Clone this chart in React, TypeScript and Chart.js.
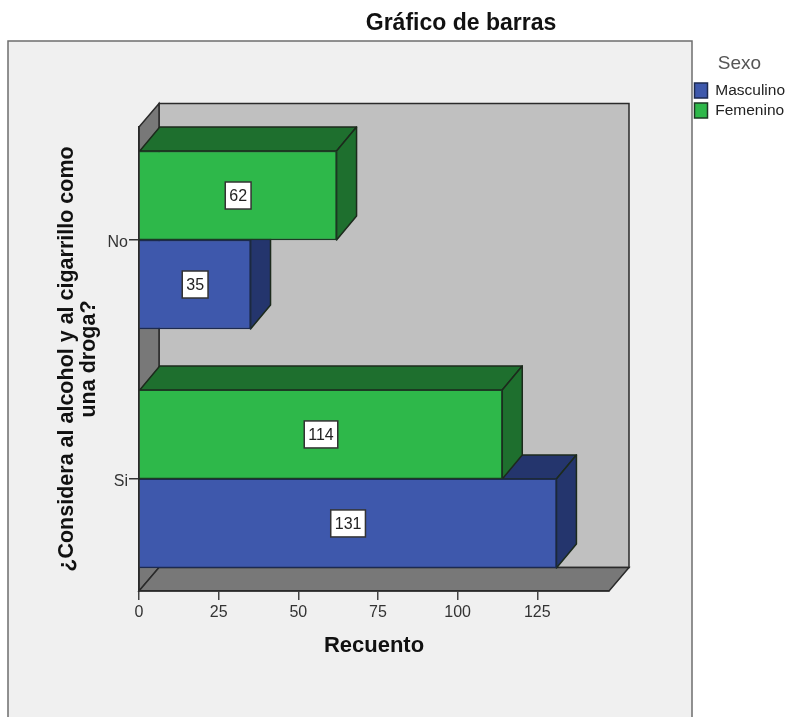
import React, { useEffect, useRef } from "react";
import { Chart, registerables } from "chart.js";

Chart.register(...registerables);

const categories = ["Si", "No"];
const categoryPositions = [1, 2];
const masculino = [131, 35];
const femenino = [114, 62];
const xTitle = "Recuento";
const yTitle = ["¿Considera al alcohol y al cigarrillo como", "una droga?"];
const chartTitle = "Gráfico de barras";
const legendTitle = "Sexo";

const FONT = "'Liberation Sans', Arial, sans-serif";
const DEPTH_X = 20;
const DEPTH_Y = 24;
const WALL_DEPTH_Y = 23.5;
const LINE = "#2a2a2a";

const poly = (ctx: CanvasRenderingContext2D, pts: number[][], fill: string, stroke = LINE, lw = 1.5) => {
  ctx.beginPath();
  pts.forEach((p, i) => (i ? ctx.lineTo(p[0], p[1]) : ctx.moveTo(p[0], p[1])));
  ctx.closePath();
  ctx.fillStyle = fill;
  ctx.fill();
  ctx.strokeStyle = stroke;
  ctx.lineWidth = lw;
  ctx.stroke();
};

const scene = {
  id: "scene",
  beforeLayout(chart: any) {
    const legend = chart.legend;
    if (!legend.__patched) {
      legend.__patched = true;
      const fit = legend.fit;
      legend.fit = function () {
        fit.call(this);
        this.width = 93;
      };
      const drawTitle = legend._drawTitle ?? legend.drawTitle;
      const nudged = function (this: any) {
        this.ctx.save();
        this.ctx.translate(3, -1);
        drawTitle.call(this);
        this.ctx.restore();
      };
      legend.drawTitle = nudged;
      legend._drawTitle = nudged;
    }
  },
  afterLayout(chart: any) {
    const t = chart.titleBlock;
    t.left = 136; t.right = 786; t.top = 12; t.bottom = 38;
    const l = chart.legend;
    l.left = 690; l.right = 786; l.top = 50; l.bottom = 130;
  },
  beforeDraw(chart: any) {
    const { ctx, chartArea: a, width, height } = chart;
    ctx.save();
    ctx.fillStyle = "#ffffff";
    ctx.fillRect(0, 0, width, height);
    ctx.fillStyle = "#f0f0f0";
    ctx.fillRect(8, 41, 684, height - 41);
    ctx.strokeStyle = "#6e6e6e";
    ctx.lineWidth = 1.5;
    ctx.beginPath();
    ctx.moveTo(8, height);
    ctx.lineTo(8, 41);
    ctx.lineTo(692, 41);
    ctx.lineTo(692, height);
    ctx.stroke();
    const d = DEPTH_X, h = WALL_DEPTH_Y;
    poly(ctx, [[a.left + d, a.top - h], [a.right + d, a.top - h], [a.right + d, a.bottom - h], [a.left + d, a.bottom - h]], "#c0c0c0");
    poly(ctx, [[a.left, a.top], [a.left + d, a.top - h], [a.left + d, a.bottom - h], [a.left, a.bottom]], "#787878");
    poly(ctx, [[a.left, a.bottom], [a.left + d, a.bottom - h], [a.right + d, a.bottom - h], [a.right, a.bottom]], "#787878");
    ctx.restore();
  },
  beforeDatasetsDraw(chart: any) {
    const { ctx } = chart;
    ctx.save();
    ctx.lineJoin = "round";
    chart.data.datasets.forEach((ds: any, i: number) => {
      chart.getDatasetMeta(i).data.forEach((el: any) => {
        const top = el.y - el.height / 2;
        const bot = el.y + el.height / 2;
        const l = el.base, r = el.x;
        poly(ctx, [[l, top], [l + DEPTH_X, top - DEPTH_Y], [r + DEPTH_X, top - DEPTH_Y], [r, top]], ds.topColor, "#1c2a1c");
        poly(ctx, [[r, top], [r + DEPTH_X, top - DEPTH_Y], [r + DEPTH_X, bot - DEPTH_Y], [r, bot]], ds.sideColor, "#1c2a1c");
      });
    });
    ctx.restore();
  },
  afterDatasetsDraw(chart: any) {
    const { ctx } = chart;
    ctx.save();
    ctx.font = `16px ${FONT}`;
    ctx.textAlign = "center";
    ctx.textBaseline = "middle";
    chart.data.datasets.forEach((ds: any, i: number) => {
      chart.getDatasetMeta(i).data.forEach((el: any, j: number) => {
        const txt = String(ds.data[j].x);
        const cx = (el.base + el.x) / 2;
        const w = ctx.measureText(txt).width + 8;
        const bh = 27;
        ctx.fillStyle = "#ffffff";
        ctx.strokeStyle = "#333333";
        ctx.lineWidth = 1.5;
        ctx.fillRect(cx - w / 2, el.y - bh / 2, w, bh);
        ctx.strokeRect(cx - w / 2, el.y - bh / 2, w, bh);
        ctx.fillStyle = "#222222";
        ctx.fillText(txt, cx, el.y + 1);
      });
    });
    ctx.restore();
  },
};

export default function App() {
  const ref = useRef<HTMLCanvasElement>(null);
  useEffect(() => {
    const chart = new Chart(ref.current as HTMLCanvasElement, {
      type: "bar",
      plugins: [scene],
      data: {
        datasets: [
          {
            label: "Masculino",
            order: 2,
            data: masculino.map((x, i) => ({ x, y: categoryPositions[i] })),
            backgroundColor: "#3e58ac",
            borderColor: "#1c2a50",
            borderWidth: 1.5,
            barThickness: 89,
            topColor: "#24356d",
            sideColor: "#24356d",
          },
          {
            label: "Femenino",
            order: 1,
            data: femenino.map((x, i) => ({ x, y: categoryPositions[i] })),
            backgroundColor: "#2eb84a",
            borderColor: "#1c3a24",
            borderWidth: 1.5,
            barThickness: 89,
            topColor: "#1e6f2e",
            sideColor: "#1e6f2e",
          },
        ] as any,
      },
      options: {
        indexAxis: "y",
        responsive: false,
        animation: false,
        layout: { padding: { left: 56, right: 84, top: 103, bottom: 58 } },
        plugins: {
          tooltip: { enabled: false },
          title: {
            display: true,
            text: chartTitle,
            color: "#111111",
            padding: 0,
            font: { family: FONT, size: 23, weight: "bold", lineHeight: "24px" },
          },
          legend: {
            position: "right",
            align: "start",
            reverse: true,
            title: {
              display: true,
              text: legendTitle,
              color: "#555555",
              padding: { top: 5, bottom: 0.5 },
              font: { family: FONT, size: 19 },
            },
            labels: {
              boxWidth: 13,
              boxHeight: 15,
              padding: 4.5,
              color: "#222222",
              font: { family: FONT, size: 15.5, lineHeight: "18px" },
            },
          },
        },
        scales: {
          x: {
            type: "linear",
            min: 0,
            max: 147.5,
            afterFit: (s: any) => { s.height = 68; },
            border: { color: LINE, width: 1.5 },
            grid: { drawOnChartArea: false, drawTicks: true, tickLength: 9, color: "#444444", lineWidth: 1.5 },
            ticks: { stepSize: 25, includeBounds: false, maxRotation: 0, padding: 3, color: "#333333", font: { family: FONT, size: 16 } },
            title: {
              display: true,
              text: xTitle,
              color: "#111111",
              padding: { top: 0, bottom: 0 },
              font: { family: FONT, size: 22, weight: "bold" },
            },
          },
          y: {
            type: "linear",
            offset: false,
            min: 0.531,
            max: 2.473,
            afterBuildTicks: (s: any) => { s.ticks = categoryPositions.map((value) => ({ value })); },
            afterFit: (s: any) => { s.width = 83; },
            border: { color: LINE, width: 1.5 },
            grid: { offset: false, drawOnChartArea: false, drawTicks: true, tickLength: 10, color: "#333333", lineWidth: 1.5 },
            ticks: {
              padding: 1,
              labelOffset: 3,
              color: "#333333",
              font: { family: FONT, size: 16 },
              callback: (v: any) => categories[categoryPositions.indexOf(v)] ?? "",
            },
            title: {
              display: true,
              text: yTitle,
              color: "#111111",
              padding: 0,
              font: { family: FONT, size: 21.5, weight: "bold", lineHeight: "22px" },
            },
          },
        },
      },
    } as any);
    return () => chart.destroy();
  }, []);
  return (
    <div style={{ position: "fixed", left: 0, top: 0, width: 786, height: 717 }}>
      <canvas ref={ref} width={786} height={717} style={{ display: "block" }} />
    </div>
  );
}
